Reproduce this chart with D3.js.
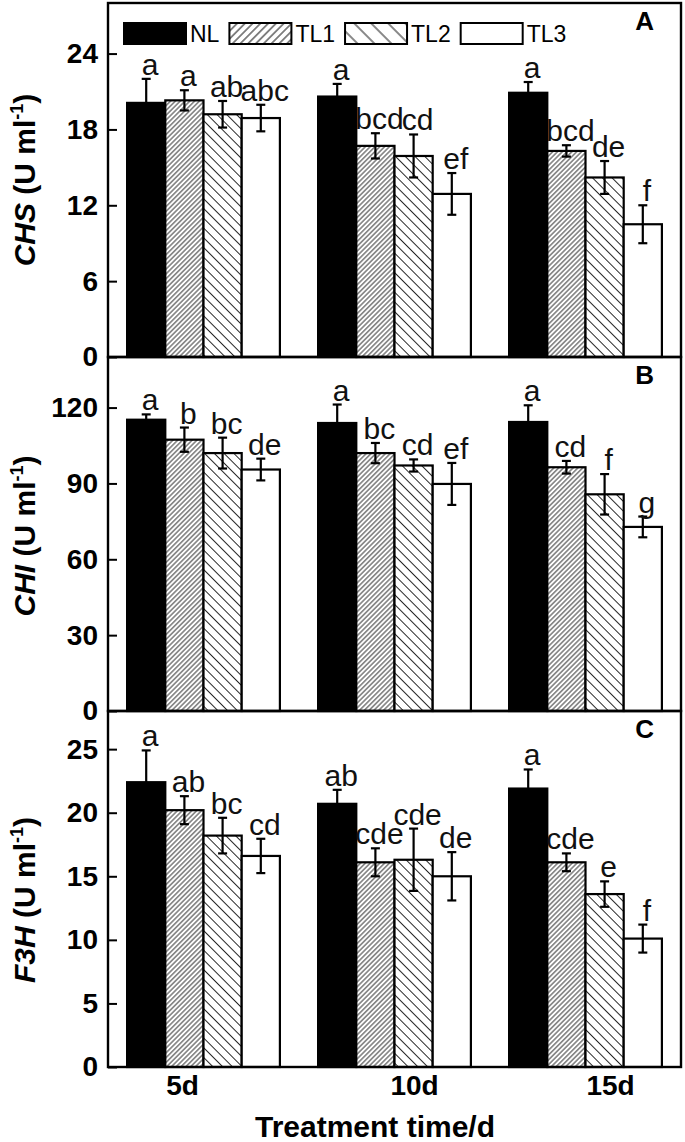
<!DOCTYPE html>
<html>
<head>
<meta charset="utf-8">
<script src="https://cdn.jsdelivr.net/npm/d3@7/dist/d3.min.js"></script>
<style>
  html, body { margin: 0; padding: 0; background: #fff; }
  svg { display: block; font-family: "Liberation Sans", Arial, sans-serif; }
</style>
</head>
<body>
<svg id="chart" width="685" height="1142"></svg>
<script>
// ---------------- DATA ----------------
const categories = ["5d", "10d", "15d"];
const series = ["NL", "TL1", "TL2", "TL3"];

// rows = categories, columns = series
const chsMean = [[20.1, 20.3, 19.2, 18.9], [20.6, 16.7, 15.9, 12.9], [20.9, 16.3, 14.2, 10.5]];
const chsErr  = [[1.9, 0.8, 1.05, 1.05], [1.0, 1.0, 1.7, 1.65], [0.85, 0.45, 1.3, 1.5]];
const chsSig  = [["a", "a", "ab", "abc"], ["a", "bcd", "cd", "ef"], ["a", "bcd", "de", "f"]];

const chiMean = [[115.2, 107.3, 102.0, 95.5], [113.9, 102.0, 97.1, 89.8], [114.3, 96.4, 85.7, 72.8]];
const chiErr  = [[2.1, 4.8, 6.1, 4.3], [7.3, 4.0, 2.4, 8.3], [6.6, 2.5, 8.0, 4.1]];
const chiSig  = [["a", "b", "bc", "de"], ["a", "bc", "cd", "ef"], ["a", "cd", "f", "g"]];

const f3hMean = [[22.4, 20.2, 18.2, 16.6], [20.7, 16.1, 16.3, 15.0], [21.9, 16.1, 13.6, 10.1]];
const f3hErr  = [[2.5, 1.1, 1.4, 1.35], [1.1, 1.1, 2.45, 1.9], [1.5, 0.7, 1.0, 1.1]];
const f3hSig  = [["a", "ab", "bc", "cd"], ["ab", "cde", "cde", "de"], ["a", "cde", "e", "f"]];

const chsTicks = [0, 6, 12, 18, 24];
const chiTicks = [0, 30, 60, 90, 120];
const f3hTicks = [0, 5, 10, 15, 20, 25];

const panelNames = ["CHS", "CHI", "F3H"];
const panelLetters = ["A", "B", "C"];
const xTitle = "Treatment time/d";

// ---------------- LAYOUT ----------------
const W = 685, H = 1142;
const left = 108, right = 681;
const panelTops = [3, 357, 711];
const panelBottoms = [357, 711, 1067];
const yMax = [28, 140, 28];
const titleCenters = [180, 536, 900];
const catLabelShift = [-21, 20, 25];

const svg = d3.select("#chart");
const defs = svg.append("defs");

function hatch(id, spacing, angle, sw) {
  const p = defs.append("pattern")
    .attr("id", id)
    .attr("patternUnits", "userSpaceOnUse")
    .attr("width", spacing).attr("height", spacing)
    .attr("patternTransform", `rotate(${angle})`);
  p.append("rect").attr("width", spacing).attr("height", spacing).attr("fill", "#fff");
  p.append("line").attr("x1", spacing / 2).attr("x2", spacing / 2)
    .attr("y1", -1).attr("y2", spacing + 1)
    .attr("stroke", "#111").attr("stroke-width", sw);
}
hatch("h1", 3.4, 45, 0.85);
hatch("h2", 6.9, -45, 0.9);
hatch("lh1", 5.5, 45, 1.0);
hatch("lh2", 12, -45, 1.0);

const fills = ["#000", "url(#h1)", "url(#h2)", "#fff"];
const legendFills = ["#000", "url(#lh1)", "url(#lh2)", "#fff"];

const x0 = d3.scaleBand().domain(categories).range([left, right])
  .paddingInner(0.2).paddingOuter(0.1);
const x1 = d3.scaleBand().domain(series).range([0, x0.bandwidth()]);

const panels = [
  { mean: chsMean, err: chsErr, sig: chsSig, ticks: chsTicks },
  { mean: chiMean, err: chiErr, sig: chiSig, ticks: chiTicks },
  { mean: f3hMean, err: f3hErr, sig: f3hSig, ticks: f3hTicks }
];

panels.forEach((p, pi) => {
  const y = d3.scaleLinear().domain([0, yMax[pi]]).range([panelBottoms[pi], panelTops[pi]]);
  const g = svg.append("g");

  const rows = [];
  categories.forEach((c, ci) => series.forEach((s, si) => {
    rows.push({ c, s, si, v: p.mean[ci][si], e: p.err[ci][si], t: p.sig[ci][si] });
  }));

  g.selectAll("rect.bar").data(rows).join("rect")
    .attr("class", "bar")
    .attr("x", d => x0(d.c) + x1(d.s))
    .attr("width", x1.bandwidth())
    .attr("y", d => y(d.v))
    .attr("height", d => y(0) - y(d.v))
    .attr("fill", d => fills[d.si])
    .attr("stroke", "#000")
    .attr("stroke-width", 2.2);

  const eb = g.selectAll("g.eb").data(rows).join("g").attr("class", "eb")
    .attr("stroke", "#000").attr("stroke-width", 2.2);
  const cx = d => x0(d.c) + x1(d.s) + x1.bandwidth() / 2;
  eb.append("line").attr("x1", cx).attr("x2", cx)
    .attr("y1", d => y(d.v + d.e)).attr("y2", d => y(d.v - d.e));
  eb.append("line").attr("x1", d => cx(d) - 4.5).attr("x2", d => cx(d) + 4.5)
    .attr("y1", d => y(d.v + d.e)).attr("y2", d => y(d.v + d.e));
  eb.append("line").attr("x1", d => cx(d) - 4.5).attr("x2", d => cx(d) + 4.5)
    .attr("y1", d => y(d.v - d.e)).attr("y2", d => y(d.v - d.e));

  g.selectAll("text.sig").data(rows).join("text")
    .attr("class", "sig")
    .attr("x", d => cx(d) + 4)
    .attr("y", d => y(d.v + d.e) - 4)
    .attr("text-anchor", "middle")
    .attr("font-size", 30)
    .attr("fill", "#111")
    .text(d => d.t);

  const axis = d3.axisLeft(y).tickValues(p.ticks).tickSize(-9).tickPadding(10);
  const ag = svg.append("g").attr("transform", `translate(${left},0)`).call(axis);
  ag.select(".domain").remove();
  ag.selectAll(".tick line").attr("stroke", "#000").attr("stroke-width", 2);
  ag.selectAll(".tick text")
    .attr("font-size", 28).attr("font-weight", "bold")
    .attr("font-family", "'Liberation Sans', Arial, sans-serif")
    .attr("fill", "#000");

  svg.append("rect")
    .attr("x", left).attr("y", panelTops[pi])
    .attr("width", right - left).attr("height", panelBottoms[pi] - panelTops[pi])
    .attr("fill", "none").attr("stroke", "#000").attr("stroke-width", 2.4);

  svg.append("text")
    .attr("x", 654).attr("y", panelTops[pi] + 27)
    .attr("text-anchor", "end")
    .attr("font-size", 26).attr("font-weight", "bold")
    .text(panelLetters[pi]);

  const t = svg.append("text")
    .attr("transform", `translate(35,${titleCenters[pi]}) rotate(-90)`)
    .attr("text-anchor", "middle")
    .attr("font-size", 30).attr("font-weight", "bold");
  t.append("tspan").attr("font-style", "italic").text(panelNames[pi]);
  t.append("tspan").text(" (U ml");
  t.append("tspan").attr("font-size", 18).attr("dy", -12).text("-1");
  t.append("tspan").attr("dy", 12).text(")");
});

const yb = panelBottoms[2];
svg.append("g").selectAll("text").data(categories).join("text")
  .attr("x", (d, i) => x0(d) + x0.bandwidth() / 2 + catLabelShift[i])
  .attr("y", yb + 28)
  .attr("text-anchor", "middle")
  .attr("font-size", 28).attr("font-weight", "bold")
  .text(d => d);

svg.append("text")
  .attr("x", 375).attr("y", 1137)
  .attr("text-anchor", "middle")
  .attr("font-size", 30).attr("font-weight", "bold")
  .text(xTitle);

const lg = svg.append("g");
let lx = 124;
series.forEach((s, i) => {
  lg.append("rect").attr("x", lx).attr("y", 23).attr("width", 62).attr("height", 21)
    .attr("fill", legendFills[i]).attr("stroke", "#000").attr("stroke-width", 2);
  const tx = lg.append("text").attr("x", lx + 66).attr("y", 42)
    .attr("font-size", 23).text(s);
  lx = lx + 66 + tx.node().getComputedTextLength() + 10;
});
</script>
</body>
</html>
